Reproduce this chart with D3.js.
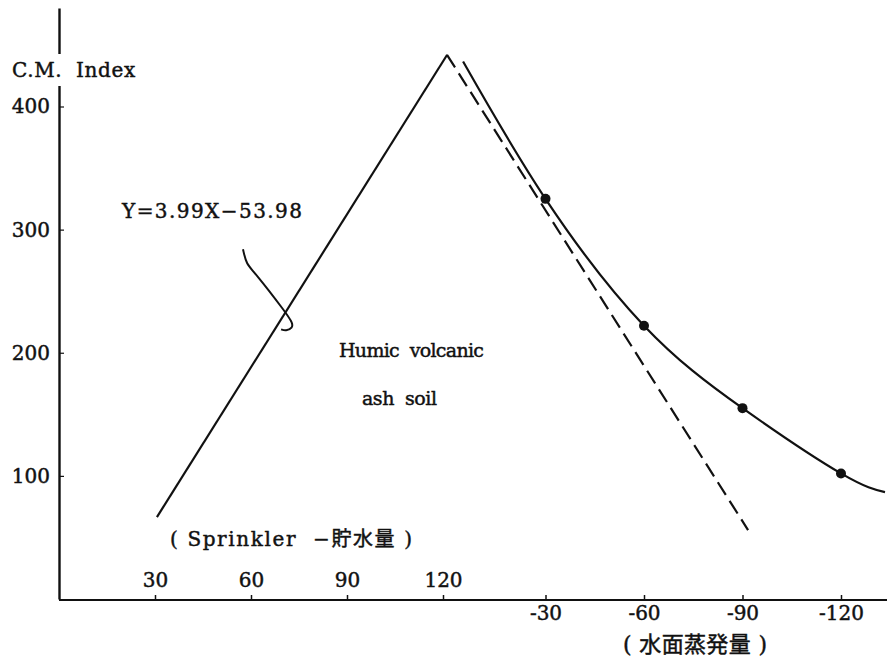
<!DOCTYPE html>
<html>
<head>
<meta charset="utf-8">
<script src="https://cdn.jsdelivr.net/npm/d3@7"></script>
<style>
  html, body { margin: 0; padding: 0; background: #fff; }
  svg text { font-family: 'DejaVu Serif', 'Noto Sans CJK JP', serif; fill: #111; white-space: pre;
             stroke: #111; stroke-width: 0.45px; }
</style>
</head>
<body>
<div id="chart"></div>
<script>
// ticks
var yTicks = [100, 200, 300, 400];
var leftTicks = [30, 60, 90, 120];      // Sprinkler - storage
var rightTicks = [-30, -60, -90, -120]; // pan evaporation

// straight regression line, left (sprinkler) scale
var lineX = [30.6, 121.3];
var lineY = [66.5, 442];

// dashed line, right (evaporation) scale
var dashX = [0, -91.7];
var dashY = [442, 56];

// fitted curve, right scale
var curveX = [-4.9, -30, -60, -90, -120, -133.4];
var curveY = [436.5, 325, 222, 155, 102, 86.8];

// observed points, right scale
var dotX = [-30, -60, -90, -120];
var dotY = [325, 222, 155, 102];

// hand drawn pointer from the equation to the line, left scale
var hookX = [57.5, 58.6, 61.0, 71.0, 73.0, 73.0, 70.9, 69.4];
var hookY = [284.0, 271.5, 266.0, 232.3, 224.2, 220.2, 217.6, 219.0];

var width = 887, height = 663;

var svg = d3.select('#chart').append('svg')
  .attr('width', width)
  .attr('height', height);

// scales: the x axis is split in two halves sharing one line
var xL = d3.scaleLinear().domain([0, 120]).range([59, 443]);
var xR = d3.scaleLinear().domain([0, -120]).range([447, 841]);
var y = d3.scaleLinear().domain([0, 480]).range([599, 8]);

// y axis, ticks pointing inward
var yAxis = svg.append('g')
  .attr('transform', 'translate(' + xL(0) + ',0)')
  .call(d3.axisLeft(y).tickValues(yTicks).tickSizeInner(-5).tickSizeOuter(0).tickPadding(9));

yAxis.select('.domain').attr('stroke-width', 2.4).attr('stroke', '#111');
yAxis.selectAll('.tick line').attr('stroke', '#111').attr('stroke-width', 1.2);
yAxis.selectAll('.tick text').style('font-size', '20px').attr('fill', '#111');

// baseline across both halves
svg.append('line')
  .attr('x1', xL(0)).attr('x2', width)
  .attr('y1', y(0) + 1).attr('y2', y(0) + 1)
  .attr('stroke', '#111').attr('stroke-width', 2.2);

var axL = svg.append('g')
  .attr('transform', 'translate(0,' + (y(0) + 1) + ')')
  .call(d3.axisTop(xL).tickValues(leftTicks).tickSizeInner(5).tickSizeOuter(0).tickPadding(8));

var axR = svg.append('g')
  .attr('transform', 'translate(0,' + (y(0) + 1) + ')')
  .call(d3.axisBottom(xR).tickValues(rightTicks).tickSizeInner(-5).tickSizeOuter(0).tickPadding(6)
    .tickFormat(function(d) { return '-' + (-d); }));

[axL, axR].forEach(function(a) {
  a.select('.domain').remove();
  a.selectAll('.tick line').attr('stroke', '#111').attr('stroke-width', 1.5);
  a.selectAll('.tick text').style('font-size', '20px').attr('fill', '#111');
});

// axis title, cutting through the y axis
svg.append('rect')
  .attr('x', 52).attr('y', 54).attr('width', 14).attr('height', 32)
  .attr('fill', '#fff');
svg.append('text')
  .attr('x', 12).attr('y', 77)
  .style('font-size', '20px')
  .style('letter-spacing', '0.6px')
  .text('C.M.  Index');

// ****************** lines ***************************

var lineL = d3.line()
  .x(function(d) { return xL(d[0]); })
  .y(function(d) { return y(d[1]); });

var lineR = d3.line()
  .x(function(d) { return xR(d[0]); })
  .y(function(d) { return y(d[1]); });

svg.append('path')
  .attr('d', lineL(d3.zip(lineX, lineY)))
  .attr('fill', 'none').attr('stroke', '#111').attr('stroke-width', 2.2);

svg.append('path')
  .attr('d', lineR(d3.zip(dashX, dashY)))
  .attr('fill', 'none').attr('stroke', '#111').attr('stroke-width', 2.2)
  .attr('stroke-dasharray', '15,7');

svg.append('path')
  .attr('d', lineR.curve(d3.curveNatural)(d3.zip(curveX, curveY)))
  .attr('fill', 'none').attr('stroke', '#111').attr('stroke-width', 2.2);

svg.selectAll('circle.dot')
  .data(d3.zip(dotX, dotY))
  .enter().append('circle')
  .attr('class', 'dot')
  .attr('cx', function(d) { return xR(d[0]); })
  .attr('cy', function(d) { return y(d[1]); })
  .attr('r', 5)
  .attr('fill', '#111');

svg.append('path')
  .attr('d', lineL.curve(d3.curveBasis)(d3.zip(hookX, hookY)))
  .attr('fill', 'none').attr('stroke', '#111').attr('stroke-width', 2);

// ****************** labels ***************************

svg.append('text')
  .attr('x', 122).attr('y', 218)
  .style('font-size', '20px')
  .attr('textLength', 180)
  .text('Y=3.99X−53.98');

svg.append('text')
  .attr('x', 339).attr('y', 357)
  .style('font-size', '19px')
  .attr('textLength', 145)
  .text('Humic  volcanic');

svg.append('text')
  .attr('x', 362).attr('y', 405)
  .style('font-size', '19px')
  .attr('textLength', 75)
  .text('ash  soil');

svg.append('text')
  .attr('x', 170).attr('y', 546)
  .style('font-size', '20px')
  .attr('textLength', 242)
  .text('( Sprinkler  −貯水量 )');

svg.append('text')
  .attr('x', 623).attr('y', 652)
  .style('font-size', '22px')
  .attr('textLength', 144)
  .text('( 水面蒸発量 )');
</script>
</body>
</html>
